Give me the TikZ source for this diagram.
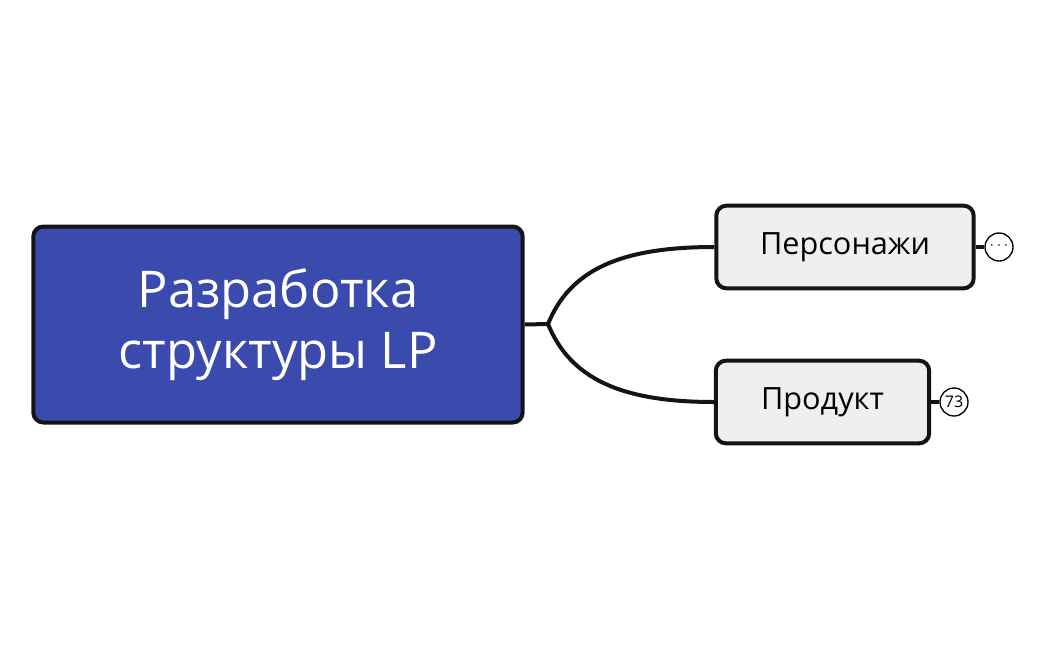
\documentclass[tikz,border=0pt]{standalone}
\usepackage{fontspec}
\setmainfont{Open Sans}
\begin{document}
\begin{tikzpicture}[x=0.75pt,y=-0.75pt,
  box/.style={draw=black!92,line width=3pt,rounded corners=7.5pt,inner sep=0pt},
  conn/.style={draw=black!92,line width=3pt},
  badge/.style={circle,draw=black,line width=1pt,fill=white,inner sep=0pt,minimum size=21pt,font=\fontsize{12}{12}\selectfont}]
\fill[white] (0,0) rectangle (1045,650);
\useasboundingbox (0,0) rectangle (1045,650);
\node[box,fill={rgb,255:red,58;green,74;blue,173},minimum width=367pt,minimum height=147pt,text=white,align=center,font=\fontsize{38}{46}\selectfont] (root) at (278,324.5) {Разработка\\структуры LP};
\node[box,fill={rgb,255:red,239;green,239;blue,239},minimum width=193pt,minimum height=62pt,font=\fontsize{23}{26}\selectfont] (p) at (845,247) {\raisebox{-2pt}{Персонажи}};
\node[box,fill={rgb,255:red,239;green,239;blue,239},minimum width=160pt,minimum height=62pt,font=\fontsize{23}{26}\selectfont] (q) at (822.5,402) {\raisebox{-2pt}{Продукт}};
\coordinate (j) at (548,324);
\draw[conn] (root.east) -- (j);
\draw[conn] (j) .. controls (570,270) and (620,247) .. (p.west);
\draw[conn] (j) .. controls (570,378) and (620,402) .. (q.west);
\node[badge] (b1) at (999,247) {\raisebox{2pt}{$\cdots$}};
\node[badge] (b2) at (954,402) {73};
\draw[conn] (p.east) -- (b1.west);
\draw[conn] (q.east) -- (b2.west);
\end{tikzpicture}
\end{document}
